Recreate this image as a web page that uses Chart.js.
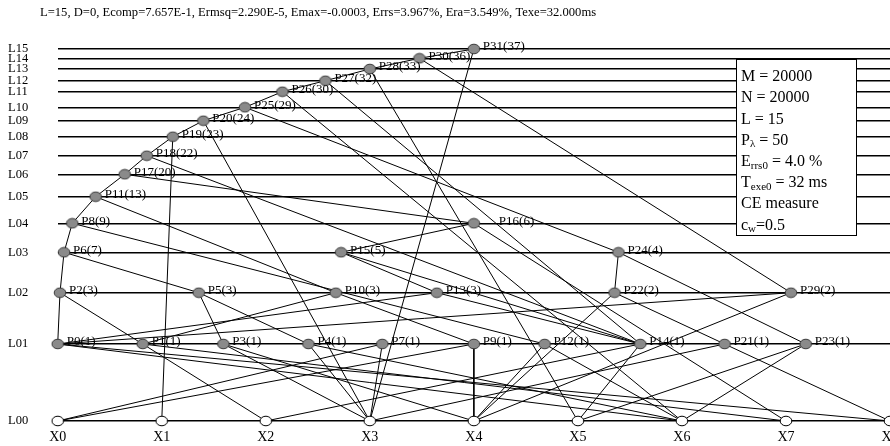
<!DOCTYPE html>
<html><head><meta charset="utf-8">
<script src="https://cdn.jsdelivr.net/npm/chart.js@4.4.0/dist/chart.umd.min.js"></script>
<style>html,body{margin:0;padding:0;background:#fff}</style>
</head><body>
<canvas id="c" width="890" height="446"></canvas>
<script>
const titleText = 'L=15, D=0, Ecomp=7.657E-1, Ermsq=2.290E-5, Emax=-0.0003, Errs=3.967%, Era=3.549%, Texe=32.000ms';
const levelLabels = ['L00','L01','L02','L03','L04','L05','L06','L07','L08','L09','L10','L11','L12','L13','L14','L15'];
const levelHeights = [0, 77, 128.3, 168.7, 197.7, 224.3, 246.7, 265.3, 284.3, 300.3, 313.7, 329.3, 340.3, 352, 362.7, 372];
const inputNames = ['X0','X1','X2','X3','X4','X5','X6','X7','X8'];
const nodeNames  = ['P0','P1','P3','P4','P7','P9','P12','P14','P21','P23',
                    'P2','P5','P10','P13','P22','P29','P6','P15','P24','P8','P16',
                    'P11','P17','P18','P19','P20','P25','P26','P27','P28','P30','P31'];
const nodeLevels = [1,1,1,1,1,1,1,1,1,1, 2,2,2,2,2,2, 3,3,3, 4,4, 5,6,7,8,9,10,11,12,13,14,15];
const nodeX      = [0.0,0.817,1.592,2.41,3.12,4.0,4.68,5.6,6.41,7.19,
                    0.022,1.356,2.673,3.644,5.352,7.048, 0.061,2.724,5.39, 0.14,4.0,
                    0.365,0.644,0.856,1.106,1.40,1.80,2.16,2.573,3.0,3.477,4.0];
const nodeCounts = [1,1,1,1,1,1,1,1,1,1, 3,3,3,3,2,2, 7,5,4, 9,6, 13,20,22,23,24,29,30,32,33,36,37];
const edges = [
  ['P0','X6'],['P0','X8'],['P1','X2'],['P1','X7'],['P3','X3'],['P3','X4'],
  ['P4','X3'],['P4','X6'],['P7','X0'],['P7','X3'],['P9','X0'],['P9','X4'],
  ['P12','X4'],['P12','X6'],['P14','X2'],['P14','X5'],['P21','X3'],['P21','X8'],
  ['P23','X5'],['P23','X6'],
  ['P2','P0'],['P2','P1'],['P5','P3'],['P5','P4'],['P10','P1'],['P10','P9'],
  ['P13','P0'],['P13','P14'],['P22','P21'],['P22','X4'],['P29','P0'],['P29','X4'],
  ['P6','P2'],['P6','P5'],['P15','P13'],['P15','P14'],['P24','P22'],['P24','P23'],
  ['P8','P6'],['P8','P12'],['P16','P15'],['P16','X7'],['P11','P8'],['P11','P10'],
  ['P17','P11'],['P17','P16'],['P18','P17'],['P18','P14'],['P19','P18'],['P19','X1'],
  ['P20','P19'],['P20','X3'],['P25','P20'],['P25','P24'],['P26','P25'],['P26','X6'],
  ['P27','P26'],['P27','P14'],['P28','P27'],['P28','X5'],['P30','P28'],['P30','P29'],
  ['P31','P30'],['P31','X3']
];
const boxLines = [
  [['M = 20000',0]],
  [['N = 20000',0]],
  [['L = 15',0]],
  [['P',0],['\u03bb',1],[' = 50',0]],
  [['E',0],['rrs0',1],[' = 4.0 %',0]],
  [['T',0],['exe0',1],[' = 32 ms',0]],
  [['CE measure',0]],
  [['c',0],['w',1],['=0.5',0]]
];

const SERIF = "'Liberation Serif','Times New Roman',serif";
function pos(name){
  if (name[0] === 'X') return {x: inputNames.indexOf(name), y: levelHeights[0]};
  const i = nodeNames.indexOf(name);
  return {x: nodeX[i], y: levelHeights[nodeLevels[i]]};
}
function ellipse(fill, stroke){
  const c = document.createElement('canvas'); c.width = 14; c.height = 12;
  const g = c.getContext('2d');
  g.beginPath(); g.ellipse(7, 6, 5.8, 4.8, 0, 0, Math.PI*2);
  g.fillStyle = fill; g.fill(); g.lineWidth = 1; g.strokeStyle = stroke; g.stroke();
  return c;
}
const grayDot = ellipse('#8a8a8a', '#3a3a3a');
const whiteDot = ellipse('#ffffff', '#000000');

const datasets = [];
datasets.push({label:'P', data: nodeNames.map(pos), pointStyle: grayDot, pointRadius: 6, showLine:false, order:0, clip:false});
datasets.push({label:'X', data: inputNames.map(pos), pointStyle: whiteDot, pointRadius: 6, showLine:false, order:0, clip:false});
edges.forEach(e => datasets.push({data:[pos(e[0]), pos(e[1])], showLine:true, pointRadius:0, borderColor:'#000', borderWidth:1, order:2, clip:false}));

const decor = {
  id:'decor',
  afterDatasetsDraw(chart){
    const ctx = chart.ctx, xs = chart.scales.x, ys = chart.scales.y;
    ctx.save();
    ctx.fillStyle = '#000'; ctx.textBaseline = 'middle';
    ctx.font = '13px ' + SERIF; ctx.textAlign = 'left';
    nodeNames.forEach((n, i) => {
      const p = pos(n);
      const shift = n === 'P16' ? 25 : 9;
      ctx.fillText(n + '(' + nodeCounts[i] + ')', xs.getPixelForValue(p.x) + shift, ys.getPixelForValue(p.y) - 2);
    });
    ctx.font = '14px ' + SERIF; ctx.textAlign = 'center';
    inputNames.forEach((n, i) => ctx.fillText(n, xs.getPixelForValue(i), chart.chartArea.bottom + 16));
    ctx.restore();
  },
  afterDraw(chart){
    const ctx = chart.ctx;
    ctx.save();
    ctx.fillStyle = '#000'; ctx.textBaseline = 'middle'; ctx.textAlign = 'left';
    ctx.font = '12.6px ' + SERIF;
    ctx.fillText(titleText, 40, 13);
    ctx.fillStyle = '#fff'; ctx.fillRect(736, 59, 121, 176);
    ctx.strokeStyle = '#000'; ctx.lineWidth = 1; ctx.strokeRect(736.5, 59.5, 120, 176);
    ctx.fillStyle = '#000';
    boxLines.forEach((segs, k) => {
      let x = 741; const y = 77 + k * 21.2;
      segs.forEach(([t, sub]) => {
        ctx.font = (sub ? '11px ' : '16px ') + SERIF;
        ctx.fillText(t, x, y + (sub ? 4 : 0));
        x += ctx.measureText(t).width;
      });
    });
    ctx.restore();
  }
};

new Chart(document.getElementById('c'), {
  type: 'scatter',
  data: {datasets},
  options: {
    responsive: false, animation: false, events: [],
    layout: {autoPadding: false, padding: {left: 8, top: 30, right: 0, bottom: 0}},
    plugins: {legend: {display: false}, tooltip: {enabled: false}},
    scales: {
      x: {
        type: 'linear', min: 0, max: 8,
        grid: {display: false}, border: {display: false},
        ticks: {display: false, stepSize: 1},
        afterFit: s => { s.height = 25; }
      },
      y: {
        type: 'linear', min: 0, max: 391,
        afterBuildTicks: s => { s.ticks = levelHeights.map(v => ({value: v})); },
        grid: {color: '#000', lineWidth: 1.5, drawTicks: false}, border: {display: false},
        ticks: {autoSkip: false, crossAlign: 'far', color: '#000', font: {family: SERIF, size: 12.5},
                callback: (v, i) => levelLabels[i]},
        afterFit: s => { s.width = 49.7; }
      }
    }
  },
  plugins: [decor]
});
</script>
</body></html>
